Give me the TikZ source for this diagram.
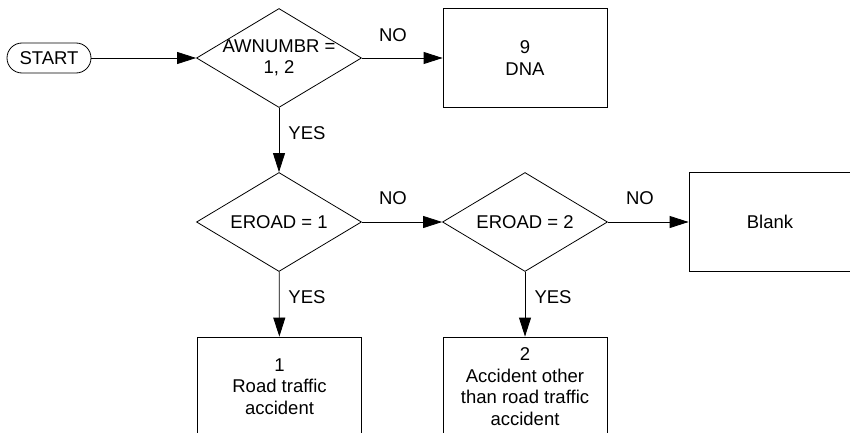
\documentclass[tikz,border=0pt]{standalone}
\usepackage{fontspec}
\setmainfont{Liberation Sans}
\usetikzlibrary{arrows.meta,shapes.geometric}

\tikzset{
  flow/.style={line width=0.8pt},
  arr/.style={flow,-{Triangle[length=19pt,width=12pt]}},
  dec/.style={draw,flow,shape=diamond,inner sep=0pt,minimum width=165pt,minimum height=99pt},
  blk/.style={draw,flow,rectangle,align=center,inner sep=0pt,minimum width=164pt,minimum height=99pt},
  term/.style={draw,flow,rectangle,rounded corners=15pt,minimum width=84pt,minimum height=30pt,inner sep=0pt}
}

\begin{document}
\begin{tikzpicture}[x=1pt,y=-1pt,font=\fontsize{18.5}{21.5}\selectfont]

\useasboundingbox (0,0) rectangle (850,433);
\clip (0,0) rectangle (850,433);

% Start
\node[term] (start) at (49,58) {START};

% Tests
\node[dec,label={[align=center]center:AWNUMBR =\\1, 2}] (qaw) at (279,58) {};
\node[dec,label={center:EROAD = 1}] (qer1) at (279,222) {};
\node[dec,label={center:EROAD = 2}] (qer2) at (525,222) {};

% Codes
\node[blk] (dna) at (525,58) {9\\DNA};
\node[blk,minimum width=162pt] (blank) at (770,222) {Blank};
\node[blk] (rta) at (279.5,386.5) {1\\Road traffic\\accident};
\node[blk] (oth) at (525,386.5) {2\\Accident other\\than road traffic\\accident};

% Links
\draw[arr] (start) -- (qaw);
\draw[arr] (qaw) -- (dna);
\draw[arr] (qaw) -- (qer1);
\draw[arr] (qer1) -- (qer2);
\draw[arr] (qer2) -- (blank);
\draw[arr] (qer1) -- (rta);
\draw[arr] (qer2) -- (oth);

% Answers
\node (no1) at (393,35) {NO};
\node (yes1) at (307,133) {YES};
\node (no2) at (393,198) {NO};
\node (no3) at (640,198) {NO};
\node (yes2) at (307,297) {YES};
\node (yes3) at (553,297) {YES};

\end{tikzpicture}
\end{document}
